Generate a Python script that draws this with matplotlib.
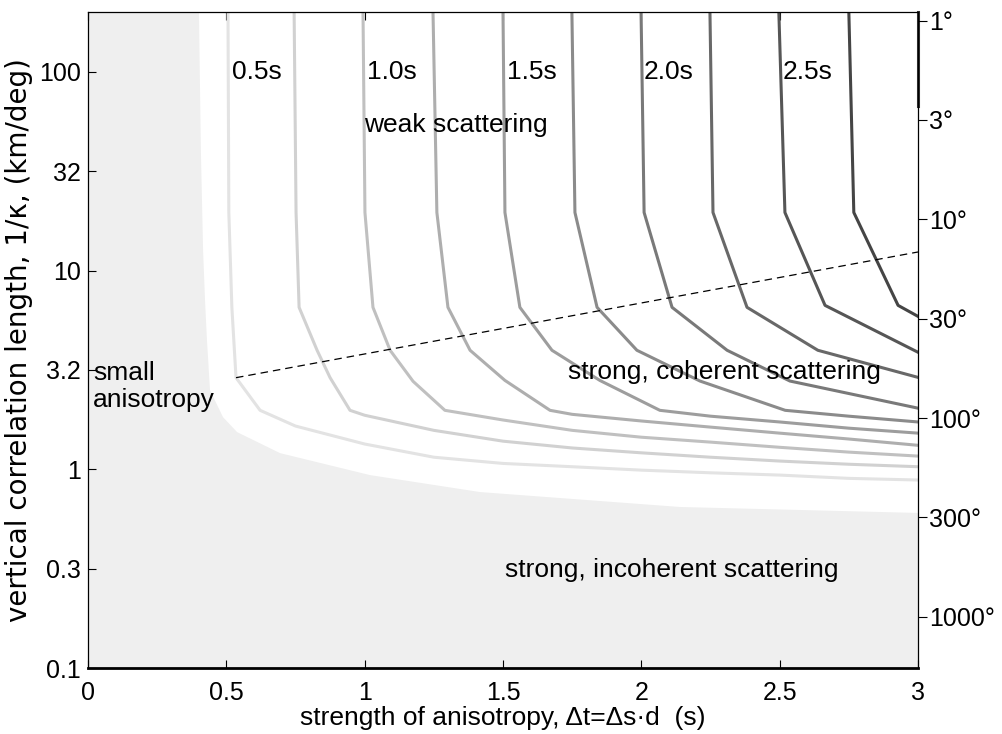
import matplotlib
matplotlib.use('Agg')
import matplotlib.pyplot as plt
from matplotlib.ticker import FixedLocator, NullLocator, FixedFormatter

plt.rcParams['font.family'] = ['Liberation Sans', 'DejaVu Sans']

# ---------------- data ----------------
levels = [0.5, 0.75, 1.0, 1.25, 1.5, 1.75, 2.0, 2.25, 2.5, 2.75, 3.0]

c050_x = [0.506, 0.509, 0.520, 0.535, 0.622, 0.75, 1.0, 1.25, 1.5, 1.75, 2.0, 2.25, 2.5, 2.75, 3.0]
c050_y = [200, 19.6, 6.53, 2.89, 1.98, 1.65, 1.34, 1.15, 1.07, 1.03, 0.99, 0.96, 0.935, 0.90, 0.883]

c075_x = [0.745, 0.752, 0.763, 0.828, 0.875, 0.947, 1.0, 1.25, 1.5, 1.75, 2.0, 2.25, 2.5, 2.75, 3.0]
c075_y = [200, 19.6, 6.53, 3.97, 2.89, 1.98, 1.87, 1.57, 1.385, 1.28, 1.21, 1.15, 1.10, 1.06, 1.03]

c100_x = [0.994, 1.001, 1.03, 1.092, 1.175, 1.29, 1.5, 1.75, 2.0, 2.25, 2.5, 2.75, 3.0]
c100_y = [200, 19.6, 6.53, 3.97, 2.77, 1.98, 1.77, 1.57, 1.45, 1.37, 1.29, 1.22, 1.165]

c125_x = [1.247, 1.261, 1.301, 1.381, 1.507, 1.67, 1.75, 2.0, 2.25, 2.5, 2.75, 3.0]
c125_y = [200, 19.6, 6.53, 3.97, 2.80, 1.98, 1.89, 1.75, 1.63, 1.52, 1.42, 1.32]

c150_x = [1.50, 1.507, 1.561, 1.677, 1.85, 2.067, 2.25, 2.5, 2.75, 3.0]
c150_y = [200, 19.6, 6.53, 3.97, 2.80, 1.98, 1.85, 1.73, 1.61, 1.52]

c175_x = [1.749, 1.76, 1.84, 1.984, 2.212, 2.52, 2.75, 3.0]
c175_y = [200, 19.6, 6.53, 3.97, 2.78, 1.98, 1.85, 1.73]

c200_x = [1.999, 2.01, 2.111, 2.31, 2.537, 3.0]
c200_y = [200, 19.6, 6.53, 3.97, 2.78, 2.03]

c225_x = [2.248, 2.259, 2.382, 2.638, 3.0]
c225_y = [200, 19.6, 6.53, 3.97, 2.90]

c250_x = [2.497, 2.519, 2.664, 3.0]
c250_y = [200, 19.6, 6.68, 3.88]

c275_x = [2.75, 2.768, 2.928, 3.0]
c275_y = [200, 19.6, 6.68, 5.88]

c300_x = [3.0, 3.0]
c300_y = [200, 67.5]

contours_x = [c050_x, c075_x, c100_x, c125_x, c150_x, c175_x,
              c200_x, c225_x, c250_x, c275_x, c300_x]
contours_y = [c050_y, c075_y, c100_y, c125_y, c150_y, c175_y,
              c200_y, c225_y, c250_y, c275_y, c300_y]

# boundary of the incoherent (grey) region
bound_x = [0.401, 0.408, 0.416, 0.423, 0.430, 0.441, 0.488, 0.539, 0.694, 1.019, 1.417, 2.14, 3.0]
bound_y = [200, 40.1, 12.6, 7.08, 4.46, 2.50, 1.829, 1.538, 1.206, 0.935, 0.768, 0.646, 0.603]

# dashed separation line
dash_x = [0.535, 3.0]
dash_y = [2.89, 12.4]

xticks = [0, 0.5, 1, 1.5, 2, 2.5, 3]
xticklabels = ['0', '0.5', '1', '1.5', '2', '2.5', '3']
yticks = [0.1, 0.3162, 1, 3.162, 10, 31.62, 100]
yticklabels = ['0.1', '0.3', '1', '3.2', '10', '32', '100']
rticks = [1, 3.162, 10, 31.62, 100, 316.2, 1000]
rticklabels = ['1°', '3°', '10°', '30°', '100°', '300°', '1000°']
angle_const = 181.0   # degrees * km/deg

level_labels = ['0.5s', '1.0s', '1.5s', '2.0s', '2.5s']
level_label_x = [0.52, 1.01, 1.515, 2.01, 2.51]

# ---------------- figure ----------------
FS = 19
TFS = 18
fig = plt.figure(figsize=(10.02, 7.34), dpi=100)
ax = fig.add_axes([88 / 1002, 1 - 668 / 734, 830 / 1002, 656 / 734])
ax.set_yscale('log')
ax.set_xlim(0, 3)
ax.set_ylim(0.1, 200)
ax.set_facecolor('#efefef')

ax.fill(bound_x + [3.0], bound_y + [200], color='white', lw=0, zorder=1)

n = len(levels)
for i, (cx, cy) in enumerate(zip(contours_x, contours_y)):
    g = 0.89 - (0.89 - 0.20) * i / (n - 1)
    ax.plot(cx, cy, color=(g, g, g), lw=2.2, solid_joinstyle='round',
            zorder=3, clip_on=(i != n - 1))

ax.plot(dash_x, dash_y, color='black', lw=0.9, dashes=(6, 4), zorder=4)

for t, x in zip(level_labels, level_label_x):
    ax.text(x, 100, t, fontsize=FS, ha='left', va='center', zorder=5)
ax.text(0.998, 54, 'weak scattering', fontsize=FS, ha='left', va='center', zorder=5)
ax.text(0.018, 2.62, 'small\nanisotropy', fontsize=FS, ha='left', va='center',
        linespacing=1.15, zorder=5)
ax.text(1.735, 3.08, 'strong, coherent scattering', fontsize=FS, ha='left',
        va='center', zorder=5)
ax.text(1.507, 0.31, 'strong, incoherent scattering', fontsize=FS, ha='left',
        va='center', zorder=5)

ax.xaxis.set_major_locator(FixedLocator(xticks))
ax.xaxis.set_major_formatter(FixedFormatter(xticklabels))
ax.yaxis.set_major_locator(FixedLocator(yticks))
ax.yaxis.set_major_formatter(FixedFormatter(yticklabels))
ax.yaxis.set_minor_locator(NullLocator())
ax.xaxis.set_minor_locator(NullLocator())
ax.tick_params(axis='both', direction='in', length=5.5, width=0.8,
               top=True, right=True, labelsize=TFS, color='black')
ax.tick_params(axis='y', pad=5)
ax.tick_params(axis='x', pad=9)
for s in ax.spines.values():
    s.set_linewidth(0.9)
    s.set_zorder(6)
ax.spines['bottom'].set_linewidth(2.0)

ax.set_xlabel('strength of anisotropy, Δt=Δs·d  (s)', fontsize=FS)
ax.xaxis.set_label_coords(0.5, -0.058)
ax.set_ylabel('vertical correlation length, 1/κ, (km/deg)', fontsize=20,
              family=['DejaVu Sans'])
ax.yaxis.set_label_coords(-0.066, 0.5)

ax2 = ax.twinx()
ax2.set_yscale('log')
ax2.set_ylim(angle_const / 0.1, angle_const / 200)
ax2.yaxis.set_major_locator(FixedLocator(rticks))
ax2.yaxis.set_major_formatter(FixedFormatter(rticklabels))
ax2.yaxis.set_minor_locator(NullLocator())
ax2.tick_params(axis='y', direction='out', length=6.5, width=0.8,
                labelsize=TFS, pad=1.5)
for s in ax2.spines.values():
    s.set_visible(False)

fig.savefig('out.png', dpi=100)
